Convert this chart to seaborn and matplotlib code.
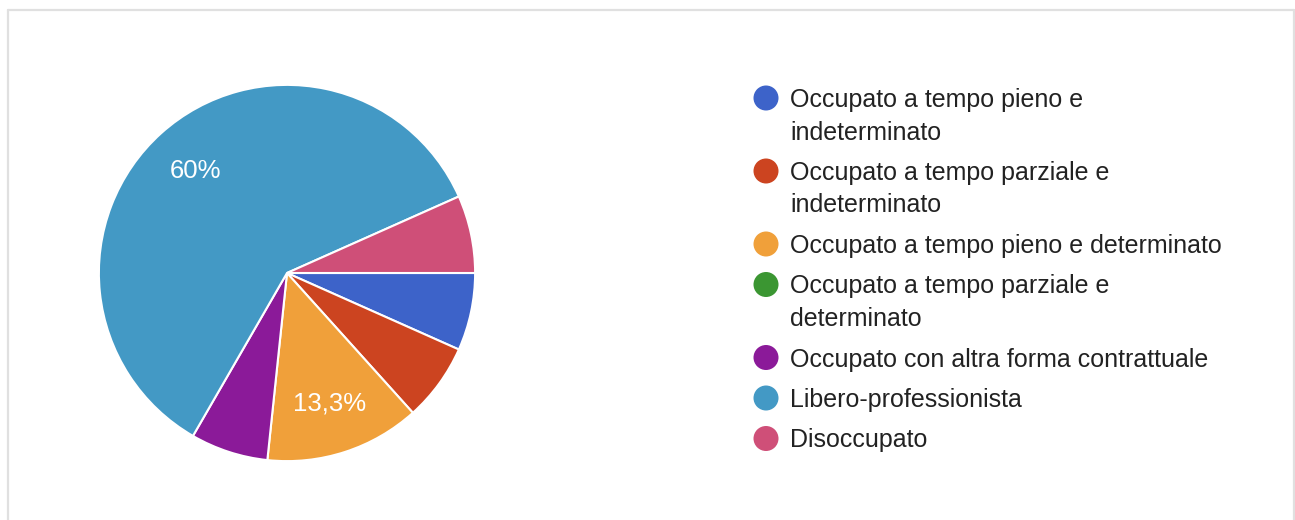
import matplotlib
matplotlib.use('Agg')
import matplotlib.pyplot as plt
import seaborn as sns
from matplotlib.patches import Circle
from matplotlib.lines import Line2D

# ---- data ----
categories = [
    "Occupato a tempo pieno e\nindeterminato",
    "Occupato a tempo parziale e\nindeterminato",
    "Occupato a tempo pieno e determinato",
    "Occupato a tempo parziale e\ndeterminato",
    "Occupato con altra forma contrattuale",
    "Libero-professionista",
    "Disoccupato",
]
values = [1, 1, 2, 0, 1, 9, 1]
colors = ["#3d63c9", "#cc4420", "#f0a03a", "#3b9632", "#8b1a99", "#4399c5", "#cf4f78"]

sns.set_theme(style="white")
plt.rcParams['font.family'] = ['Liberation Sans', 'DejaVu Sans']

W, H = 1295, 520
fig = plt.figure(figsize=(W / 100, H / 100), dpi=100)
fig.patch.set_facecolor('white')

cx, cy, r = 287, 273, 190
ax = fig.add_axes([(cx - r) / W, (H - cy - r) / H, 2 * r / W, 2 * r / H])

nz_vals = [v for v in values if v > 0]
nz_cols = [c for v, c in zip(values, colors) if v > 0]


def fmt(p):
    if p < 10:
        return ''
    s = f'{p:.1f}'.rstrip('0').rstrip('.').replace('.', ',')
    return s + '%'


wedges, texts, autotexts = ax.pie(
    nz_vals, colors=nz_cols, startangle=0, counterclock=False,
    autopct=fmt, pctdistance=0.73,
    wedgeprops=dict(edgecolor='white', linewidth=1.5),
    textprops=dict(color='white', fontsize=18.5),
)
ax.set_xlim(-1.01, 1.01)
ax.set_ylim(-1.01, 1.01)
ax.set_aspect('equal')

# overlay axes in pixel coordinates for legend and frame
lax = fig.add_axes([0, 0, 1, 1])
lax.set_xlim(0, W)
lax.set_ylim(H, 0)
lax.axis('off')

# frame
frame_col = '#e0e0e0'
lax.add_line(Line2D([8, 1294], [10, 10], color=frame_col, lw=1.6))
lax.add_line(Line2D([8, 8], [10, H], color=frame_col, lw=1.6))
lax.add_line(Line2D([1294, 1294], [10, H], color=frame_col, lw=1.6))

# legend
base = 107
line_step = 32.5
item_gap = 40.5
for cat, col in zip(categories, colors):
    lines = cat.split('\n')
    lax.add_patch(Circle((766, base - 9), 12.5, color=col, lw=0))
    for i, ln in enumerate(lines):
        lax.text(790, base + i * line_step, ln, fontsize=18, color='#222222',
                 va='baseline', ha='left')
    base += (len(lines) - 1) * line_step + item_gap

fig.savefig('out.png', dpi=100, facecolor='white')
